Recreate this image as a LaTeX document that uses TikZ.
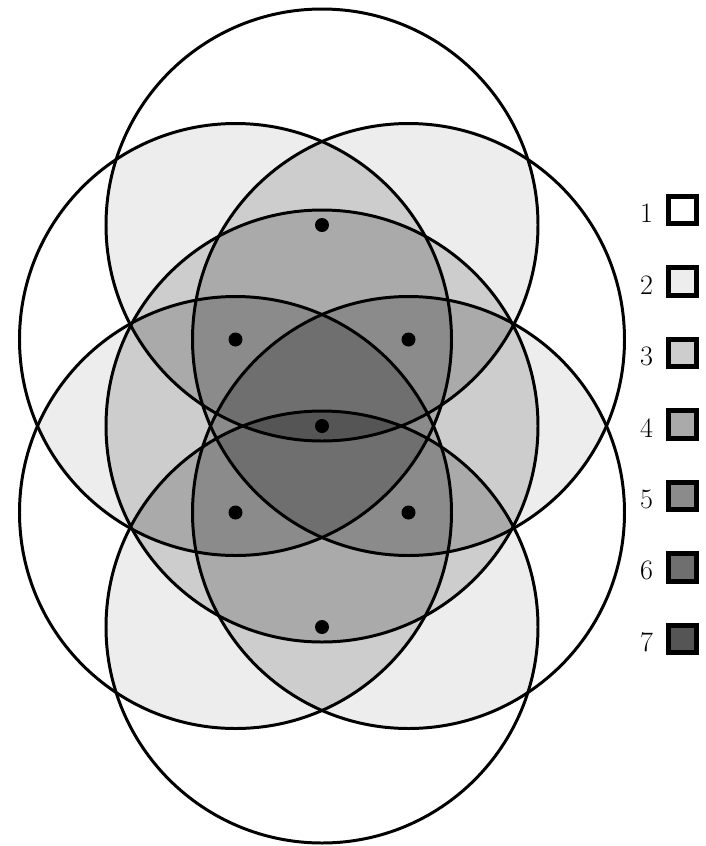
\documentclass[tikz,border=0pt]{standalone}
\usepackage{tikz}
\usetikzlibrary{positioning}
\definecolor{Lev1}{RGB}{255,255,255}
\definecolor{Lev2}{RGB}{237,237,237}
\definecolor{Lev3}{RGB}{205,205,205}
\definecolor{Lev4}{RGB}{170,170,170}
\definecolor{Lev5}{RGB}{139,139,139}
\definecolor{Lev6}{RGB}{111,111,111}
\definecolor{Lev7}{RGB}{85,85,85}
\def\R{216}

\begin{document}
\begin{tikzpicture}[x=0.02cm, y=-0.02cm,
    ring/.style={line width=1.7pt},
    hole/.style={circle, fill=black, inner sep=0pt, minimum size=0.28cm},
    key/.style={draw, line width=2.6pt, inner sep=0pt, minimum size=0.55cm},
    keylabel/.style={inner sep=0pt, font=\fontsize{16}{18}\selectfont}]
    \useasboundingbox (0,0) rectangle (706,846);

    % Centres of the seven circles
    \coordinate (c1) at (322,225);
    \coordinate (c2) at (235.5,339.5);
    \coordinate (c3) at (408.5,339.5);
    \coordinate (c4) at (322,426);
    \coordinate (c5) at (235.5,512.5);
    \coordinate (c6) at (408.5,512.5);
    \coordinate (c7) at (322,627);

    % Shade by how many circles overlap
    \foreach \lev in {2,...,7}{
      \foreach \n in {3,...,127}{
        \pgfmathtruncatemacro\bA{mod(\n,2)}
        \pgfmathtruncatemacro\bB{mod(floor(\n/2),2)}
        \pgfmathtruncatemacro\bC{mod(floor(\n/4),2)}
        \pgfmathtruncatemacro\bD{mod(floor(\n/8),2)}
        \pgfmathtruncatemacro\bE{mod(floor(\n/16),2)}
        \pgfmathtruncatemacro\bF{mod(floor(\n/32),2)}
        \pgfmathtruncatemacro\bG{mod(floor(\n/64),2)}
        \pgfmathtruncatemacro\cnt{\bA+\bB+\bC+\bD+\bE+\bF+\bG}
        \ifnum\cnt=\lev
          \begin{scope}
            \ifnum\bA=1 \clip (c1) circle[radius=\R];\fi
            \ifnum\bB=1 \clip (c2) circle[radius=\R];\fi
            \ifnum\bC=1 \clip (c3) circle[radius=\R];\fi
            \ifnum\bD=1 \clip (c4) circle[radius=\R];\fi
            \ifnum\bE=1 \clip (c5) circle[radius=\R];\fi
            \ifnum\bF=1 \clip (c6) circle[radius=\R];\fi
            \ifnum\bG=1 \clip (c7) circle[radius=\R];\fi
            \fill[Lev\lev] (0,0) rectangle (706,846);
          \end{scope}
        \fi
      }
    }

    % Outlines and centre dots
    \foreach \i in {1,...,7}{
      \draw[ring] (c\i) circle[radius=\R];
      \node[hole] (dot\i) at (c\i) {};
    }

    % Legend
    \foreach \k in {1,...,7}{
      \node[key, fill=Lev\k] (key\k) at (682.5, {210+71.5*(\k-1)}) {};
      \node[keylabel, above left=0.06cm and 0.26cm of key\k.south west] (lab\k) {\k};
    }
\end{tikzpicture}
\end{document}
